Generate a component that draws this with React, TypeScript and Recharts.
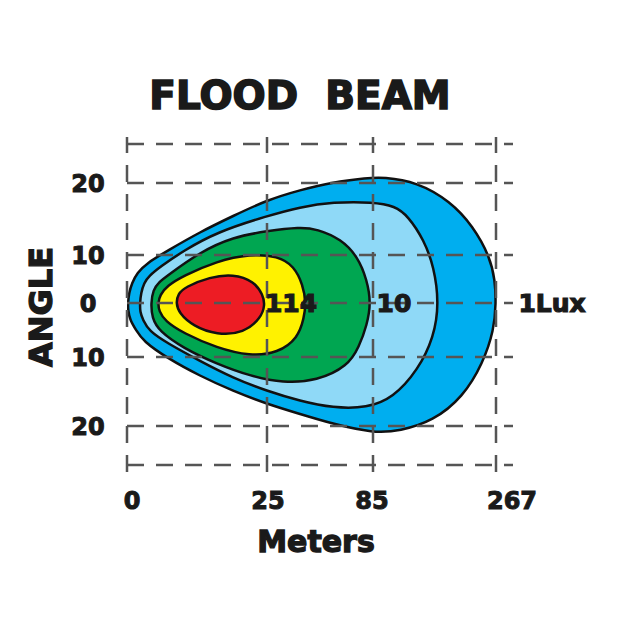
import {
  ComposedChart,
  Line,
  ReferenceDot,
  ReferenceLine,
  XAxis,
  YAxis,
} from "recharts";

// axis units: meters axis is not linear, so positions are in drawing units
const meterTicks = [5, 141, 245, 385];
const meterLabels = ["0", "25", "85", "267"];
const angleTicks = [120, 48, 0, -54, -123];
const angleLabels = ["20", "10", "0", "10", "20"];

const gridRows = [159, 120, 48, 0, -54, -123, -162];
const gridCols = [0, 140, 246, 369];

// iso-lux contours, traced clockwise from the left tip
const lux1: [number, number][] = [
  [1, 0], [2, 10], [5, 20], [10, 30], [20, 40], [40, 52], [73, 71], [106, 87],
  [140, 103], [173, 113], [206, 121], [240, 125], [256, 126], [290, 121],
  [323, 102], [346, 77], [363, 46], [368, 23], [369, 0], [367, -27],
  [356, -60], [336, -94], [306, -118], [273, -128], [246, -130], [206, -121],
  [173, -111], [140, -101], [106, -88], [73, -73], [40, -55], [16, -38],
  [9, -27], [3, -17], [1, -7],
];
const lux10: [number, number][] = [
  [13, 0], [14, 10], [17, 20], [22, 27], [33, 36], [56, 52], [90, 71],
  [140, 87], [173, 96], [206, 101], [246, 101], [268, 97], [281, 87],
  [297, 63], [307, 36], [312, 0], [307, -34], [291, -67], [266, -95],
  [240, -105], [206, -105], [173, -98], [140, -88], [106, -75], [73, -58],
  [40, -40], [22, -28], [16, -17], [13, -9],
];
const lux14: [number, number][] = [
  [24, 0], [26, 13], [32, 21], [40, 27], [73, 51], [106, 66], [140, 72],
  [173, 76], [190, 74], [214, 64], [231, 46], [240, 23], [244, 0],
  [240, -22], [232, -44], [221, -63], [190, -78], [156, -80], [123, -73],
  [90, -61], [56, -45], [32, -28], [25, -15],
];
const lux50: [number, number][] = [
  [31, 0], [33, 8], [40, 17], [56, 27], [90, 42], [123, 49], [151, 47],
  [167, 37], [176, 18], [179, 0], [177, -15], [171, -35], [151, -50],
  [123, -53], [90, -45], [56, -30], [38, -18], [32, -8],
];
const lux114: [number, number][] = [
  [49, 0], [51, 9], [58, 16], [83, 26], [106, 29], [127, 22], [136, 8],
  [138, -2], [134, -15], [117, -30], [90, -32], [66, -23], [52, -10],
];

const contours = [
  { key: "c1", pts: lux1, color: "#00aeef" },
  { key: "c10", pts: lux10, color: "#8fd9f7" },
  { key: "c14", pts: lux14, color: "#00a651" },
  { key: "c50", pts: lux50, color: "#fff200" },
  { key: "c114", pts: lux114, color: "#ed1c24" },
];

const luxLabels = ["114", "10", "1Lux"];
const luxLabelX = [164, 267, 425];

const font = "'DejaVu Sans', sans-serif";
const ink = "#1a1a1a";

const XTick = ({ x, y, payload }: any) => (
  <text x={x} y={y} dy="0.36em" textAnchor="middle" fontFamily={font}
    fontWeight="bold" fontSize={24} fill={ink} stroke={ink} strokeWidth={1}>
    {meterLabels[meterTicks.indexOf(payload.value)]}
  </text>
);

const YTick = ({ x, y, payload }: any) => (
  <text x={x} y={y} dy="0.36em" textAnchor="middle" fontFamily={font}
    fontWeight="bold" fontSize={24} fill={ink} stroke={ink} strokeWidth={1}>
    {angleLabels[angleTicks.indexOf(payload.value)]}
  </text>
);

export default function App() {
  const css = contours
    .map((c) => `.${c.key} .recharts-line-curve{fill:${c.color};}`)
    .join("\n");

  return (
    <div style={{ position: "absolute", left: 0, top: 0, width: 630, height: 630, background: "#fff" }}>
      <style>{css}</style>
      <ComposedChart
        width={630}
        height={630}
        margin={{ top: 135, right: 117, bottom: 125, left: 67 }}
      >
        <XAxis
          type="number"
          dataKey="x"
          domain={[0, 386]}
          ticks={meterTicks}
          interval={0}
          axisLine={false}
          tickLine={false}
          tickSize={0}
          tickMargin={25}
          height={30}
          tick={<XTick />}
          allowDataOverflow
        />
        <YAxis
          type="number"
          dataKey="y"
          domain={[-172, 168]}
          ticks={angleTicks}
          interval={0}
          axisLine={false}
          tickLine={false}
          tickSize={0}
          tickMargin={39}
          width={60}
          tick={<YTick />}
          allowDataOverflow
        />
        {contours.map((c) => (
          <Line
            key={c.key}
            className={c.key}
            data={c.pts.map(([x, y]) => ({ x, y }))}
            dataKey="y"
            type="basisClosed"
            stroke="#111"
            strokeWidth={2.5}
            dot={false}
            activeDot={false}
            isAnimationActive={false}
          />
        ))}
        {gridRows.map((y) => (
          <ReferenceLine
            key={"r" + y}
            segment={[{ x: 0, y }, { x: 386, y }]}
            stroke="#555"
            strokeWidth={2.5}
            strokeDasharray="17 12"
            ifOverflow="visible"
            zIndex={600}
          />
        ))}
        {gridCols.map((x) => (
          <ReferenceLine
            key={"c" + x}
            segment={[{ x, y: -169 }, { x, y: 166 }]}
            stroke="#555"
            strokeWidth={2.5}
            strokeDasharray="17 12"
            ifOverflow="visible"
            zIndex={600}
          />
        ))}
        {luxLabels.map((t, i) => (
          <ReferenceDot
            key={t}
            x={luxLabelX[i]}
            y={0}
            r={0}
            stroke="none"
            fill="none"
            ifOverflow="visible"
            zIndex={700}
            label={{
              value: t,
              position: "center",
              fontFamily: font,
              fontWeight: "bold",
              fontSize: 25,
              fill: ink,
              stroke: ink,
              strokeWidth: 1.2,
            }}
          />
        ))}
      </ComposedChart>
      <svg width={630} height={630} style={{ position: "absolute", left: 0, top: 0, pointerEvents: "none" }}>
        <text x={300} y={95} dy="0.36em" textAnchor="middle" fontFamily={font}
          fontWeight="bold" fontSize={39} fill={ink} stroke={ink} strokeWidth={1.6}>
          FLOOD{"\u00a0\u00a0"}BEAM
        </text>
        <text x={316} y={541} dy="0.36em" textAnchor="middle" fontFamily={font}
          fontWeight="bold" fontSize={30} fill={ink} stroke={ink} strokeWidth={1.3}>
          Meters
        </text>
        <text x={40} y={307} dy="0.36em" textAnchor="middle" fontFamily={font}
          fontWeight="bold" fontSize={32} fill={ink} stroke={ink} strokeWidth={1.3}
          transform="rotate(-90 40 307)">
          ANGLE
        </text>
      </svg>
    </div>
  );
}
